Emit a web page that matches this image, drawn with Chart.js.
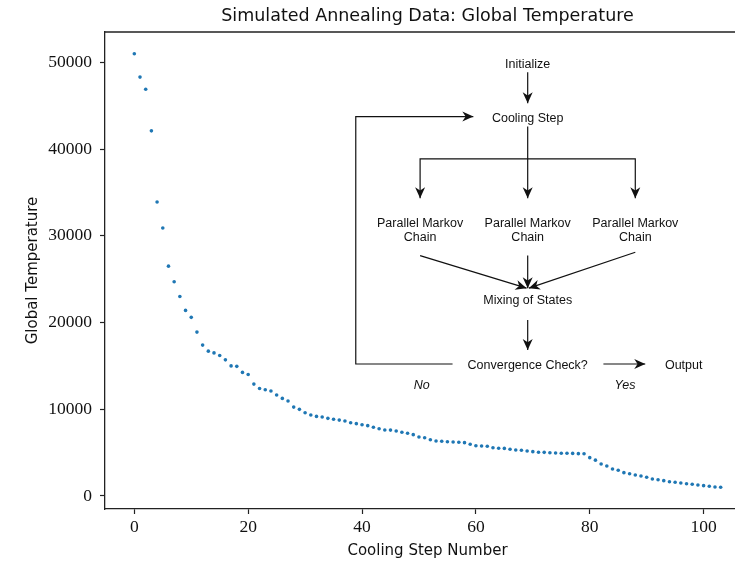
<!DOCTYPE html>
<html>
<head>
<meta charset="utf-8">
<script src="https://cdn.jsdelivr.net/npm/chart.js@4/dist/chart.umd.min.js"></script>
<style>
  html, body { margin: 0; padding: 0; background: #fff; overflow: hidden; width: 735px; height: 563px; }
  #wrap { position: relative; width: 855px; height: 563px; }
</style>
</head>
<body>
<div id="wrap"><canvas id="c" width="855" height="563"></canvas></div>
<script>
// ---- data ----
const chartTitle = 'Simulated Annealing Data: Global Temperature';
const xLabel = 'Cooling Step Number';
const yLabel = 'Global Temperature';
const xTicks = [0, 20, 40, 60, 80, 100];
const yTicks = [0, 10000, 20000, 30000, 40000, 50000];
const globalTemp = [
  51000, 48300, 46900, 42100, 33900, 30900, 26500, 24700, 23000, 21400,
  20600, 18900, 17400, 16700, 16500, 16200, 15700, 15000, 14950, 14250,
  14000, 12900, 12400, 12250, 12100, 11650, 11250, 10950, 10250, 9990,
  9600, 9330, 9180, 9100, 8950, 8850, 8750, 8650, 8450, 8340,
  8220, 8110, 7920, 7760, 7610, 7600, 7500, 7350, 7230, 7070,
  6800, 6720, 6490, 6340, 6310, 6260, 6230, 6190, 6150, 5970,
  5800, 5770, 5730, 5570, 5500, 5490, 5390, 5310, 5270, 5190,
  5110, 5040, 5030, 4990, 4960, 4930, 4920, 4910, 4880, 4870,
  4420, 4130, 3690, 3460, 3110, 2960, 2690, 2570, 2420, 2310,
  2160, 1960, 1880, 1770, 1650, 1580, 1500, 1420, 1350, 1270,
  1190, 1120, 1040, 1000
];
// flowchart labels (in data units: step, temperature)
const flowTexts = [
  { lines: ['Initialize'], x: 69.1, y: 49900 },
  { lines: ['Cooling Step'], x: 69.1, y: 43750 },
  { lines: ['Parallel Markov', 'Chain'], x: 50.2, y: 30780 },
  { lines: ['Parallel Markov', 'Chain'], x: 69.1, y: 30780 },
  { lines: ['Parallel Markov', 'Chain'], x: 88.0, y: 30780 },
  { lines: ['Mixing of States'], x: 69.1, y: 22690 },
  { lines: ['Convergence Check?'], x: 69.1, y: 15220 },
  { lines: ['Output'], x: 96.5, y: 15220 },
  { lines: ['No'], x: 50.5, y: 12920, italic: true },
  { lines: ['Yes'], x: 86.2, y: 12920, italic: true }
];
const flowArrows = [
  [[69.1, 48870], [69.1, 45290]],
  [[69.1, 42600], [69.1, 34340]],
  [[69.1, 38870], [50.2, 38870], [50.2, 34340]],
  [[69.1, 38870], [88.0, 38870], [88.0, 34340]],
  [[50.2, 27720], [68.9, 23960]],
  [[69.1, 27720], [69.1, 23960]],
  [[88.0, 28110], [69.3, 23960]],
  [[69.1, 20300], [69.1, 16840]],
  [[55.9, 15220], [38.9, 15220], [38.9, 43750], [59.55, 43750]],
  [[82.4, 15220], [89.75, 15220]]
];

const points = globalTemp.map((t, i) => ({ x: i, y: t }));
const axisColor = '#222';
const serif = "'Liberation Serif', 'DejaVu Serif', serif";
const sans = "'DejaVu Sans', sans-serif";

const framePlugin = {
  id: 'frame',
  afterDraw(chart) {
    const { ctx, chartArea: a } = chart;
    ctx.save();
    ctx.strokeStyle = axisColor;
    ctx.lineWidth = 1.3;
    ctx.beginPath();
    ctx.moveTo(a.left, a.top);
    ctx.lineTo(a.right, a.top);
    ctx.lineTo(a.right, a.bottom);
    ctx.stroke();
    // title centred over the plotting area
    ctx.fillStyle = '#111';
    ctx.font = "17.5px " + sans;
    ctx.textAlign = 'center';
    ctx.textBaseline = 'middle';
    ctx.fillText(chartTitle, (a.left + a.right) / 2, a.top - 16);
    ctx.restore();
  }
};

const flowPlugin = {
  id: 'flow',
  afterDatasetsDraw(chart) {
    const { ctx, scales } = chart;
    const px = v => scales.x.getPixelForValue(v);
    const py = v => scales.y.getPixelForValue(v);
    ctx.save();
    ctx.fillStyle = '#111';
    ctx.strokeStyle = '#111';
    ctx.lineWidth = 1.2;
    ctx.textAlign = 'center';
    ctx.textBaseline = 'middle';
    const lh = 14;
    flowTexts.forEach(n => {
      ctx.font = (n.italic ? 'italic ' : '') + "12.5px 'Liberation Sans', Arial, sans-serif";
      const cx = px(n.x), cy = py(n.y) + 1.5;
      const h = (n.lines.length - 1) * lh;
      n.lines.forEach((s, k) => ctx.fillText(s, cx, cy - h / 2 + k * lh));
    });
    flowArrows.forEach(path => {
      const pts = path.map(p => [px(p[0]), py(p[1])]);
      ctx.beginPath();
      ctx.moveTo(pts[0][0], pts[0][1]);
      for (let k = 1; k < pts.length; k++) ctx.lineTo(pts[k][0], pts[k][1]);
      ctx.stroke();
      const [x2, y2] = pts[pts.length - 1];
      const [x1, y1] = pts[pts.length - 2];
      const ang = Math.atan2(y2 - y1, x2 - x1);
      const L = 11, W = 5;
      ctx.save();
      ctx.translate(x2, y2);
      ctx.rotate(ang);
      ctx.beginPath();
      ctx.moveTo(0, 0);
      ctx.lineTo(-L, -W);
      ctx.lineTo(-L * 0.7, 0);
      ctx.lineTo(-L, W);
      ctx.closePath();
      ctx.fill();
      ctx.restore();
    });
    ctx.restore();
  }
};

new Chart(document.getElementById('c'), {
  type: 'scatter',
  data: {
    datasets: [{
      label: yLabel,
      data: points,
      backgroundColor: '#1f77b4',
      borderColor: '#1f77b4',
      borderWidth: 0,
      pointRadius: 1.8,
      pointHoverRadius: 1.8
    }]
  },
  options: {
    responsive: false,
    animation: false,
    devicePixelRatio: 1,
    layout: { padding: { top: 32, right: 105, bottom: 0, left: 0 } },
    plugins: {
      legend: { display: false },
      tooltip: { enabled: false },
      title: { display: false }
    },
    scales: {
      x: {
        type: 'linear',
        min: -5.15,
        max: 108.15,
        afterFit: s => { s.height = 54; },
        afterBuildTicks: s => { s.ticks = xTicks.map(v => ({ value: v })); },
        border: { display: true, color: axisColor, width: 1.3 },
        grid: { drawOnChartArea: false, drawTicks: true, tickLength: 5, tickWidth: 1.2, tickColor: axisColor },
        ticks: { color: '#111', font: { family: serif, size: 17.5 }, padding: 3, maxRotation: 0, callback: v => String(v) },
        title: { display: true, text: xLabel, color: '#111', font: { family: sans, size: 15, lineHeight: 1.2 }, padding: { top: 0, bottom: 3 } }
      },
      y: {
        type: 'linear',
        min: -1500,
        max: 53500,
        afterFit: s => { s.width = 105; },
        afterBuildTicks: s => { s.ticks = yTicks.map(v => ({ value: v })); },
        border: { display: true, color: axisColor, width: 1.3 },
        grid: { drawOnChartArea: false, drawTicks: true, tickLength: 5, tickWidth: 1.2, tickColor: axisColor },
        ticks: { color: '#111', font: { family: serif, size: 17.5 }, padding: 8, callback: v => String(v) },
        title: { display: true, text: yLabel, color: '#111', font: { family: sans, size: 15, lineHeight: 1.2 }, padding: { top: 24, bottom: 0 } }
      }
    }
  },
  plugins: [framePlugin, flowPlugin]
});
</script>
</body>
</html>
